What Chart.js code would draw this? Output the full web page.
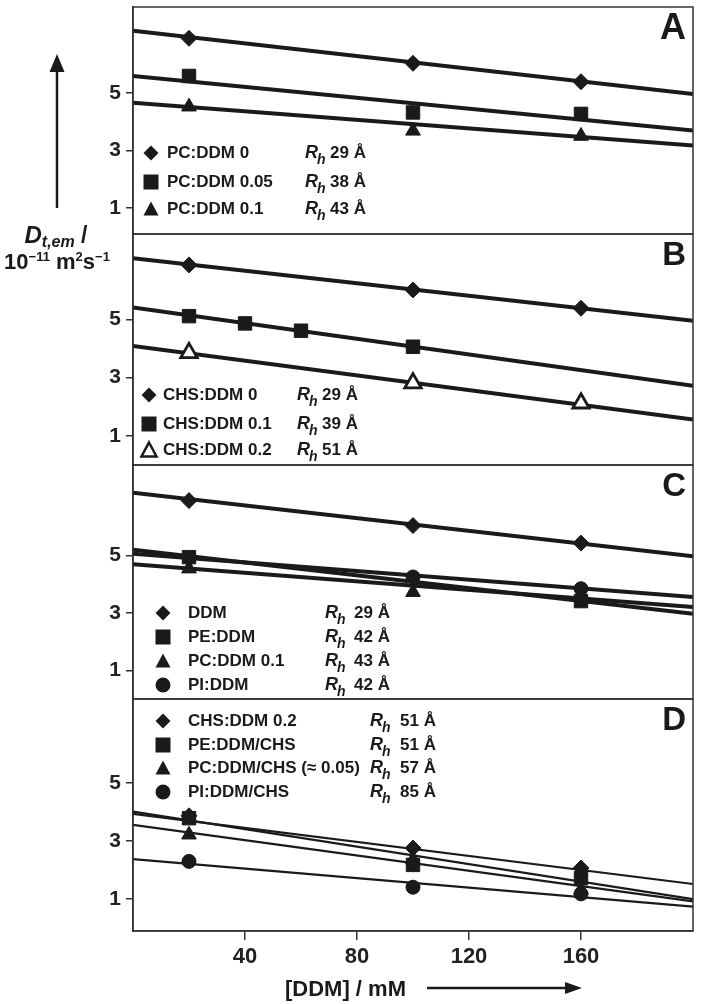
<!DOCTYPE html>
<html>
<head>
<meta charset="utf-8">
<script src="https://cdn.jsdelivr.net/npm/chart.js@4.4.0/dist/chart.umd.min.js"></script>
<style>
  html, body { margin: 0; padding: 0; background: #fff; }
</style>
</head>
<body>
<canvas id="chart" width="701" height="1004"></canvas>
<script>
// ---- data ----
var xTicks = [40, 80, 120, 160];
var yTicks = [1, 3, 5];
var conc = [20, 100, 160];
var lineX = [0, 200];

// A: PC:DDM
var aPC0 = [6.91, 6.04, 5.40];
var aPC005 = [5.60, 4.33, 4.28];
var aPC01 = [4.53, 3.69, 3.51];
var aFitPC0 = [7.17, 4.97];
var aFitPC005 = [5.60, 3.70];
var aFitPC01 = [4.67, 3.18];

// B: CHS:DDM
var concB = [20, 40, 60, 100];
var bCHS0 = [6.87, 6.01, 5.38];
var bCHS01 = [5.11, 4.86, 4.61, 4.06];
var bCHS02 = [3.85, 2.81, 2.12];
var bFitCHS0 = [7.10, 4.95];
var bFitCHS01 = [5.41, 2.72];
var bFitCHS02 = [4.09, 1.56];

// C: lipids in DDM
var cDDM = [6.91, 6.04, 5.43];
var cPEx = [20, 160];
var cPE = [4.94, 3.41];
var cPCx = [20, 100];
var cPC = [4.54, 3.72];
var cPIx = [100, 160];
var cPI = [4.25, 3.84];
var cFitDDM = [7.18, 4.97];
var cFitPE = [5.20, 2.97];
var cFitPC = [4.69, 3.20];
var cFitPI = [5.06, 3.55];

// D: lipids in DDM/CHS
var dCHS = [3.87, 2.76, 2.07];
var dPE = [3.79, 2.18, 1.72];
var dPC = [3.22, 2.36, 1.32];
var dPI = [2.30, 1.41, 1.18];
var dFitCHS = [3.94, 1.52];
var dFitPE = [4.02, 1.00];
var dFitPC = [3.56, 0.92];
var dFitPI = [2.38, 0.74];

var legendA = ['PC:DDM 0', 'PC:DDM 0.05', 'PC:DDM 0.1'];
var rhA = ['29 Å', '38 Å', '43 Å'];
var legendB = ['CHS:DDM 0', 'CHS:DDM 0.1', 'CHS:DDM 0.2'];
var rhB = ['29 Å', '39 Å', '51 Å'];
var legendC = ['DDM', 'PE:DDM', 'PC:DDM 0.1', 'PI:DDM'];
var rhC = ['29 Å', '42 Å', '43 Å', '42 Å'];
var legendD = ['CHS:DDM 0.2', 'PE:DDM/CHS', 'PC:DDM/CHS (≈ 0.05)', 'PI:DDM/CHS'];
var rhD = ['51 Å', '51 Å', '57 Å', '85 Å'];

// ---- helpers ----
var FONT = '"Liberation Sans", Arial, Helvetica, sans-serif';
var INK = '#1a1a1a';

function pts(xs, ys) {
  return xs.map(function (x, i) { return { x: x, y: ys[i] }; });
}

function markers(xs, ys, axis, style, r, open) {
  return {
    data: pts(xs, ys), yAxisID: axis, showLine: false,
    pointStyle: style, pointRadius: r, pointHoverRadius: r,
    pointBackgroundColor: open ? '#fff' : INK, pointBorderColor: INK,
    pointBorderWidth: open ? 2.8 : 1, clip: 10
  };
}

function fit(ys, axis, w) {
  return {
    data: pts(lineX, ys), yAxisID: axis, showLine: true,
    borderColor: INK, borderWidth: w, pointRadius: 0, fill: false
  };
}

// no extra room for half tick labels, the frame must sit where the figure has it
function noPad(s) {
  s.paddingTop = 0; s.paddingBottom = 0; s.paddingLeft = 0; s.paddingRight = 0;
}

function yScale(min, max, weight, sw) {
  return {
    type: 'linear', position: 'left', stack: 'panels', stackWeight: sw, weight: weight,
    min: min, max: max,
    afterBuildTicks: function (s) { s.ticks = yTicks.map(function (v) { return { value: v }; }); },
    afterFit: function (s) { s.width = 133; noPad(s); },
    grid: { drawOnChartArea: false, tickLength: 7, color: '#333', lineWidth: 1.5 },
    border: { color: '#333', width: 1.5 },
    ticks: { font: { family: FONT, size: 21, weight: 'bold' }, color: '#222', padding: 5 }
  };
}

function mark(ctx, style, x, y, r, open) {
  ctx.save();
  ctx.beginPath();
  if (style === 'rectRot') {
    ctx.moveTo(x, y - r); ctx.lineTo(x + r, y); ctx.lineTo(x, y + r); ctx.lineTo(x - r, y); ctx.closePath();
  } else if (style === 'rect') {
    ctx.rect(x - r, y - r, 2 * r, 2 * r);
  } else if (style === 'triangle') {
    ctx.moveTo(x, y - r); ctx.lineTo(x + r, y + r * 0.85); ctx.lineTo(x - r, y + r * 0.85); ctx.closePath();
  } else {
    ctx.arc(x, y, r, 0, Math.PI * 2);
  }
  if (open) {
    ctx.fillStyle = '#fff'; ctx.fill();
    ctx.lineWidth = 2.5; ctx.strokeStyle = INK; ctx.stroke();
  } else {
    ctx.fillStyle = INK; ctx.fill();
  }
  ctx.restore();
}

// draws runs of text with different fonts / vertical shifts
function runs(ctx, parts, x, y, align) {
  var total = 0;
  parts.forEach(function (p) { ctx.font = p.f; total += ctx.measureText(p.t).width; });
  var cx = align === 'center' ? x - total / 2 : x;
  parts.forEach(function (p) {
    ctx.font = p.f;
    ctx.fillText(p.t, cx, y + (p.dy || 0));
    cx += ctx.measureText(p.t).width;
  });
}

function legend(ctx, labels, rh, styles, opens, rows, mx, tx, rx, vx) {
  labels.forEach(function (lab, i) {
    var y = rows[i];
    mark(ctx, styles[i], mx, y, 7.5, opens[i]);
    ctx.fillStyle = INK;
    ctx.textBaseline = 'middle';
    ctx.font = 'bold 17px ' + FONT;
    ctx.fillText(lab, tx, y);
    ctx.font = 'italic bold 18px ' + FONT;
    ctx.fillText('R', rx, y);
    ctx.font = 'italic bold 14px ' + FONT;
    ctx.fillText('h', rx + 12, y + 7);
    ctx.font = 'bold 17px ' + FONT;
    ctx.fillText(rh[i], vx, y);
  });
}

var decor = {
  id: 'decor',
  afterDraw: function (chart) {
    var ctx = chart.ctx, ca = chart.chartArea;
    var panels = ['yA', 'yB', 'yC', 'yD'].map(function (id) { return chart.scales[id]; });
    ctx.save();
    // frames
    ctx.strokeStyle = '#333';
    ctx.lineWidth = 1.5;
    panels.forEach(function (s) { ctx.strokeRect(ca.left, s.top, ca.right - ca.left, s.bottom - s.top); });

    // panel letters
    ctx.fillStyle = INK;
    ctx.textAlign = 'right';
    ctx.textBaseline = 'middle';
    ['A', 'B', 'C', 'D'].forEach(function (t, i) {
      ctx.font = 'bold ' + (i === 0 ? 36 : 33) + 'px ' + FONT;
      ctx.fillText(t, 686, panels[i].top + 22);
    });
    ctx.textAlign = 'left';

    // legends
    legend(ctx, legendA, rhA, ['rectRot', 'rect', 'triangle'], [false, false, false],
      [153, 182, 209], 151, 167, 305, 330);
    legend(ctx, legendB, rhB, ['rectRot', 'rect', 'triangle'], [false, false, true],
      [395, 424, 450], 149, 163, 297, 322);
    legend(ctx, legendC, rhC, ['rectRot', 'rect', 'triangle', 'circle'], [false, false, false, false],
      [613, 637, 661, 685], 163, 188, 325, 354);
    legend(ctx, legendD, rhD, ['rectRot', 'rect', 'triangle', 'circle'], [false, false, false, false],
      [721, 745, 768, 792], 163, 188, 370, 400);

    // y axis title with arrow
    ctx.strokeStyle = INK;
    ctx.fillStyle = INK;
    ctx.lineWidth = 2.5;
    ctx.beginPath(); ctx.moveTo(57, 208); ctx.lineTo(57, 68); ctx.stroke();
    ctx.beginPath(); ctx.moveTo(57, 54); ctx.lineTo(64.5, 72); ctx.lineTo(49.5, 72); ctx.closePath(); ctx.fill();
    ctx.textBaseline = 'alphabetic';
    runs(ctx, [
      { t: 'D', f: 'italic bold 24px ' + FONT },
      { t: 't,em', f: 'italic bold 16px ' + FONT, dy: 4 },
      { t: ' /', f: 'bold 23px ' + FONT }
    ], 56, 243, 'center');
    runs(ctx, [
      { t: '10', f: 'bold 22px ' + FONT },
      { t: '−11', f: 'bold 13px ' + FONT, dy: -8 },
      { t: ' m', f: 'bold 22px ' + FONT },
      { t: '2', f: 'bold 13px ' + FONT, dy: -8 },
      { t: 's', f: 'bold 22px ' + FONT },
      { t: '−1', f: 'bold 13px ' + FONT, dy: -8 }
    ], 57, 269, 'center');

    // x axis title with arrow
    ctx.font = 'bold 22px ' + FONT;
    ctx.fillText('[DDM] / mM', 285, 996);
    ctx.beginPath(); ctx.moveTo(427, 988); ctx.lineTo(568, 988); ctx.stroke();
    ctx.beginPath(); ctx.moveTo(582, 988); ctx.lineTo(565, 982); ctx.lineTo(565, 994); ctx.closePath(); ctx.fill();
    ctx.restore();
  }
};

var W = 4;    // fit line width in A-C
var WD = 2.2; // thinner fits in D

var datasets = [
  // A
  markers(conc, aPC0, 'yA', 'rectRot', 8),
  markers(conc, aPC005, 'yA', 'rect', 9.5),
  markers(conc, aPC01, 'yA', 'triangle', 8.5),
  fit(aFitPC0, 'yA', W),
  fit(aFitPC005, 'yA', W),
  fit(aFitPC01, 'yA', W),
  // B
  markers(conc, bCHS0, 'yB', 'rectRot', 8),
  markers(concB, bCHS01, 'yB', 'rect', 9.5),
  markers(conc, bCHS02, 'yB', 'triangle', 9.5, true),
  fit(bFitCHS0, 'yB', W),
  fit(bFitCHS01, 'yB', W),
  fit(bFitCHS02, 'yB', W),
  // C
  markers(conc, cDDM, 'yC', 'rectRot', 8),
  markers(cPIx, cPI, 'yC', 'circle', 7),
  markers(cPEx, cPE, 'yC', 'rect', 9.5),
  markers(cPCx, cPC, 'yC', 'triangle', 8.5),
  fit(cFitDDM, 'yC', W),
  fit(cFitPE, 'yC', W),
  fit(cFitPC, 'yC', W),
  fit(cFitPI, 'yC', W),
  // D
  markers(conc, dPI, 'yD', 'circle', 7),
  markers(conc, dPC, 'yD', 'triangle', 8.5),
  markers(conc, dPE, 'yD', 'rect', 9.5),
  markers(conc, dCHS, 'yD', 'rectRot', 8),
  fit(dFitCHS, 'yD', WD),
  fit(dFitPE, 'yD', WD),
  fit(dFitPC, 'yD', WD),
  fit(dFitPI, 'yD', WD)
];

var chart = new Chart(document.getElementById('chart'), {
  type: 'scatter',
  data: { datasets: datasets },
  options: {
    responsive: false,
    animation: false,
    devicePixelRatio: 1,
    events: [],
    layout: { autoPadding: false, padding: { left: 0, right: 8, top: 7, bottom: 0 } },
    plugins: { legend: { display: false }, tooltip: { enabled: false } },
    scales: {
      x: {
        type: 'linear', position: 'bottom', min: 0, max: 200,
        afterBuildTicks: function (s) { s.ticks = xTicks.map(function (v) { return { value: v }; }); },
        afterFit: function (s) { s.height = 73; noPad(s); },
        grid: { drawOnChartArea: false, tickLength: 9, color: '#333', lineWidth: 1.5 },
        border: { color: '#333', width: 1.5 },
        ticks: { font: { family: FONT, size: 22, weight: 'bold' }, color: '#222', padding: 4, maxRotation: 0, autoSkip: false }
      },
      yA: yScale(0.1, 8.0, 4, 227),
      yB: yScale(0, 7.93, 3, 231),
      yC: yScale(0, 8.15, 2, 234),
      yD: yScale(-0.1, 7.9, 1, 232)
    }
  },
  plugins: [decor]
});
</script>
</body>
</html>
